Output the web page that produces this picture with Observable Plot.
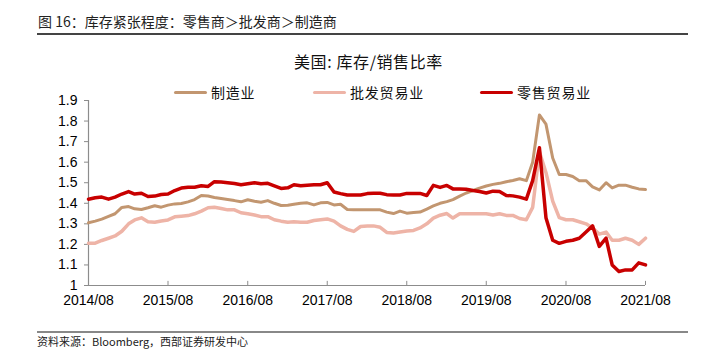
<!DOCTYPE html>
<html>
<head>
<meta charset="utf-8">
<script src="https://cdn.jsdelivr.net/npm/d3@7"></script>
<script src="https://cdn.jsdelivr.net/npm/@observablehq/plot@0.6"></script>
<style>
  html, body { margin: 0; padding: 0; background: #fff; }
  #wrap { position: relative; width: 725px; height: 364px; overflow: hidden;
          font-family: "Noto Sans CJK SC", "Liberation Sans", sans-serif; color: #111; }
  .abs { position: absolute; white-space: nowrap; line-height: 1; }
  .leg-line { position: absolute; height: 3.5px; }
</style>
</head>
<body>
<div id="wrap">
  <div class="abs" style="left:38px;top:14px;font-size:14px;color:#222;">图 16：库存紧张程度：零售商＞批发商＞制造商</div>
  <div class="abs" style="left:37px;top:33px;width:651px;height:1.5px;background:#444;"></div>
  <div id="chart" class="abs" style="left:0;top:40px;"></div>
  <div class="abs" style="left:294px;top:53px;font-size:16px;letter-spacing:0.6px;color:#111;">美国: 库存/销售比率</div>
  <div id="legend"></div>
  <div class="abs" style="left:37px;top:331px;width:651px;height:1.5px;background:#888;"></div>
  <div class="abs" style="left:37px;top:336px;font-size:11px;color:#222;">资料来源：Bloomberg，西部证券研发中心</div>
</div>
<script>
// ---- data (monthly, 2014/08 .. 2021/08) ----
const startMonth = "2014-08";
const endMonth = "2021-08";

const seriesNames = ["制造业", "批发贸易业", "零售贸易业"];
const seriesColors = ["#C29670", "#EEB4A7", "#C80000"];

const manufacturing = [
  1.305,1.313,1.323,1.336,1.349,1.380,1.384,1.373,1.370,1.378,1.388,1.381,
  1.391,1.397,1.399,1.407,1.418,1.438,1.435,1.428,1.423,1.418,1.413,1.407,
  1.417,1.410,1.405,1.413,1.400,1.389,1.390,1.395,1.400,1.402,1.392,1.402,
  1.404,1.392,1.395,1.370,1.368,1.368,1.368,1.368,1.368,1.357,1.350,1.362,
  1.352,1.355,1.357,1.372,1.387,1.400,1.408,1.418,1.435,1.450,1.462,1.474,
  1.484,1.492,1.497,1.505,1.511,1.519,1.510,1.600,1.830,1.785,1.620,1.540,
  1.540,1.530,1.510,1.510,1.480,1.465,1.500,1.475,1.488,1.488,1.478,1.470,
  1.467
];
const wholesale = [
  1.206,1.206,1.219,1.230,1.241,1.264,1.300,1.319,1.329,1.310,1.308,1.314,
  1.319,1.334,1.337,1.340,1.349,1.362,1.378,1.381,1.375,1.368,1.368,1.354,
  1.349,1.343,1.335,1.335,1.320,1.313,1.308,1.310,1.308,1.308,1.316,1.320,
  1.324,1.313,1.290,1.273,1.263,1.287,1.290,1.290,1.283,1.258,1.255,1.260,
  1.265,1.268,1.280,1.300,1.328,1.342,1.350,1.328,1.349,1.349,1.349,1.349,
  1.349,1.343,1.349,1.341,1.341,1.326,1.320,1.380,1.650,1.550,1.410,1.330,
  1.320,1.320,1.310,1.300,1.280,1.250,1.260,1.220,1.220,1.230,1.220,1.200,
  1.230
];
const retail = [
  1.420,1.427,1.430,1.420,1.430,1.445,1.457,1.445,1.449,1.433,1.435,1.443,
  1.445,1.462,1.474,1.478,1.478,1.485,1.482,1.505,1.503,1.500,1.496,1.490,
  1.495,1.500,1.495,1.497,1.485,1.472,1.475,1.490,1.485,1.488,1.490,1.490,
  1.500,1.455,1.447,1.440,1.440,1.440,1.447,1.449,1.449,1.442,1.440,1.440,
  1.448,1.448,1.448,1.438,1.487,1.477,1.487,1.470,1.470,1.468,1.462,1.457,
  1.450,1.459,1.457,1.438,1.436,1.430,1.420,1.510,1.670,1.330,1.220,1.205,
  1.215,1.220,1.230,1.260,1.290,1.190,1.230,1.100,1.068,1.076,1.076,1.110,
  1.100
];

const yTicks = [1, 1.1, 1.2, 1.3, 1.4, 1.5, 1.6, 1.7, 1.8, 1.9];
const xTickLabels = ["2014/08","2015/08","2016/08","2017/08","2018/08","2019/08","2020/08","2021/08"];

// ---- build table ----
const parseM = d3.utcParse("%Y-%m");
const start = parseM(startMonth), end = parseM(endMonth);
const months = d3.utcMonth.range(start, d3.utcMonth.offset(end, 1));
const allSeries = [manufacturing, wholesale, retail];
const rows = [];
allSeries.forEach((vals, s) => {
  vals.forEach((v, i) => rows.push({date: months[i], value: v, series: seriesNames[s]}));
});
const tickDates = xTickLabels.map(d3.utcParse("%Y/%m"));

const axisGray = "#8c8c8c";
const chart = Plot.plot({
  width: 725,
  height: 280,
  marginLeft: 88,
  marginRight: 80,
  marginTop: 60,
  marginBottom: 35,
  style: {fontFamily: "'Liberation Sans', Arial, sans-serif", fontSize: "14px", color: "#000", background: "transparent"},
  x: {type: "utc", domain: [start, end]},
  y: {domain: [1, 1.9]},
  marks: [
    Plot.ruleY([1], {stroke: axisGray, strokeWidth: 1.2}),
    Plot.ruleX([start], {y1: 1, y2: 1.9, stroke: axisGray, strokeWidth: 1.2}),
    Plot.ruleX(tickDates, {x: d => d, y1: 1, y2: 1.02, stroke: axisGray}),
    Plot.axisY({ticks: yTicks, tickSize: 4, tickPadding: 7, stroke: axisGray,
      tickFormat: d => d === 1 ? "1" : d.toFixed(1), fontSize: 14, label: null}),
    Plot.axisX({ticks: tickDates, tickSize: 0, tickPadding: 10,
      tickFormat: d3.utcFormat("%Y/%m"), fontSize: 14, label: null}),
    Plot.lineY(rows.filter(d => d.series === seriesNames[0]), {x: "date", y: "value", stroke: seriesColors[0], strokeWidth: 3, strokeLinejoin: "round"}),
    Plot.lineY(rows.filter(d => d.series === seriesNames[1]), {x: "date", y: "value", stroke: seriesColors[1], strokeWidth: 3.5, strokeLinejoin: "round"}),
    Plot.lineY(rows.filter(d => d.series === seriesNames[2]), {x: "date", y: "value", stroke: seriesColors[2], strokeWidth: 3.5, strokeLinejoin: "round"})
  ]
});
document.getElementById("chart").appendChild(chart);

// ---- legend ----
const legendPos = [{line: 174, text: 211}, {line: 313, text: 350}, {line: 480, text: 517}];
const leg = document.getElementById("legend");
seriesNames.forEach((name, i) => {
  const l = document.createElement("div");
  l.className = "leg-line";
  l.style.left = legendPos[i].line + "px";
  l.style.top = "90.5px";
  l.style.width = "33px";
  l.style.background = seriesColors[i];
  l.style.borderRadius = "2px";
  leg.appendChild(l);
  const t = document.createElement("div");
  t.className = "abs";
  t.style.left = legendPos[i].text + "px";
  t.style.top = "85px";
  t.style.fontSize = "14px";
  t.style.letterSpacing = "0.8px";
  t.textContent = name;
  leg.appendChild(t);
});
</script>
</body>
</html>
